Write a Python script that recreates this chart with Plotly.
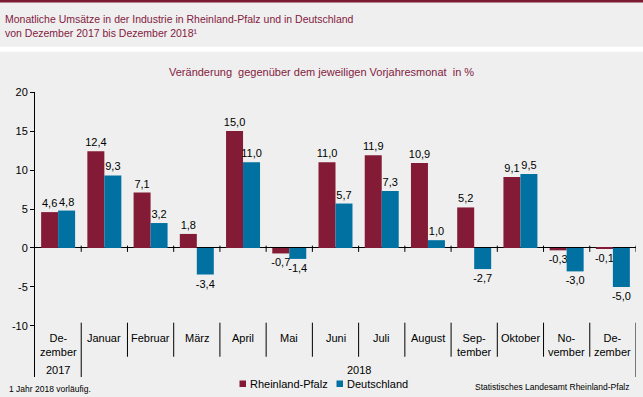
import plotly.graph_objects as go

months = ["De-<br>zember", "Januar", "Februar", "März", "April", "Mai", "Juni",
          "Juli", "August", "Sep-<br>tember", "Oktober", "No-<br>vember", "De-<br>zember"]
years = ["2017", "2018"]
rlp = [4.6, 12.4, 7.1, 1.8, 15.0, -0.7, 11.0, 11.9, 10.9, 5.2, 9.1, -0.3, -0.1]
de = [4.8, 9.3, 3.2, -3.4, 11.0, -1.4, 5.7, 7.3, 1.0, -2.7, 9.5, -3.0, -5.0]
series_names = ["Rheinland-Pfalz", "Deutschland"]
y_ticks = [-10, -5, 0, 5, 10, 15, 20]

RED = "#841b36"
BLUE = "#0071a1"
BG = "#eeefee"
TITLE_COL = "#85203f"
SANS = "Liberation Sans, Arial, sans-serif"

W, H = 643, 397
L, R, T, B = 35, 7, 92, 20
YMIN, YMAX = -16.54, 20
pw, ph = W - L - R, H - T - B


def px_x(p):
    return (p - L) / pw


def px_y(p):
    return (H - B - p) / ph


def fmt(v):
    return f"{v:.1f}".replace(".", ",")


x = list(range(len(months)))
fig = go.Figure()
for name, vals, col in [(series_names[0], rlp, RED), (series_names[1], de, BLUE)]:
    fig.add_trace(go.Bar(
        x=x, y=vals, name=name, marker=dict(color=col, line=dict(width=0)),
        text=[fmt(v) for v in vals], textposition="outside",
        textfont=dict(family=SANS, size=11, color="black"),
        constraintext="none", cliponaxis=False, showlegend=False,
    ))

shapes = []
annotations = []
n = len(months)
# zero-line ticks and category separators
for i in range(n):
    b = i + 0.5
    shapes.append(dict(type="line", xref="x", yref="y", x0=b, x1=b, y0=0.3, y1=-0.5,
                       line=dict(color="black", width=1)))
    long_sep = (i == 0) or (i == n - 1)
    shapes.append(dict(type="line", xref="x", yref="y", x0=b, x1=b, y0=-9.58,
                       y1=YMIN if long_sep else -13.94, line=dict(color="black", width=1)))
# category labels
for i, m in enumerate(months):
    annotations.append(dict(x=i, y=-10.55, xref="x", yref="y", text=m, showarrow=False,
                            xanchor="center", yanchor="top",
                            font=dict(family=SANS, size=11, color="black")))
# year labels
annotations.append(dict(x=0, y=-15.6, xref="x", yref="y", text=years[0], showarrow=False,
                        font=dict(family=SANS, size=11, color="black")))
annotations.append(dict(x=(1 + n - 1) / 2, y=-15.6, xref="x", yref="y", text=years[1],
                        showarrow=False, font=dict(family=SANS, size=11, color="black")))

# decorative header band and separator strip
shapes.append(dict(type="rect", xref="paper", yref="paper", x0=px_x(0), x1=px_x(W),
                   y0=px_y(2.5), y1=px_y(0), fillcolor="#7d1a33", line=dict(width=0),
                   layer="below"))
shapes.append(dict(type="rect", xref="paper", yref="paper", x0=px_x(0), x1=px_x(W),
                   y0=px_y(51.7), y1=px_y(46.7), fillcolor="white", line=dict(width=0),
                   layer="below"))

# subtitle
annotations.append(dict(x=px_x(321), y=px_y(72), xref="paper", yref="paper",
                        text="Veränderung  gegenüber dem jeweiligen Vorjahresmonat  in %",
                        showarrow=False, xanchor="center", yanchor="middle",
                        font=dict(family=SANS, size=11, color=TITLE_COL)))

# legend (manual)
leg = [(series_names[0], RED, 239.5, 248), (series_names[1], BLUE, 336.5, 345)]
for name, col, sx, tx in leg:
    shapes.append(dict(type="rect", xref="paper", yref="paper", x0=px_x(sx), x1=px_x(sx + 6.5),
                       y0=px_y(387), y1=px_y(380.5), fillcolor=col, line=dict(width=0)))
    annotations.append(dict(x=px_x(tx), y=px_y(383.5), xref="paper", yref="paper", text=name,
                            showarrow=False, xanchor="left", yanchor="middle",
                            font=dict(family=SANS, size=11, color="black")))

# footnote and source
annotations.append(dict(x=px_x(7), y=px_y(388.5), xref="paper", yref="paper",
                        text="1 Jahr 2018 vorläufig.", showarrow=False, xanchor="left",
                        yanchor="middle", font=dict(family=SANS, size=8.5, color="black")))
annotations.append(dict(x=px_x(632), y=px_y(387.5), xref="paper", yref="paper",
                        text="Statistisches Landesamt Rheinland-Pfalz", showarrow=False,
                        xanchor="right", yanchor="middle",
                        font=dict(family=SANS, size=8.5, color="black")))

fig.update_layout(
    width=W, height=H,
    margin=dict(l=L, r=R, t=T, b=B, pad=0),
    paper_bgcolor=BG, plot_bgcolor=BG,
    barmode="group", bargap=0.265, bargroupgap=0,
    title=dict(text="Monatliche Umsätze in der Industrie in Rheinland-Pfalz und in Deutschland"
                    "<br>von Dezember 2017 bis Dezember 2018¹",
               x=5 / W, xref="container", xanchor="left",
               y=1 - 23 / H, yref="container", yanchor="middle",
               font=dict(family=SANS, size=10.5, color=TITLE_COL)),
    xaxis=dict(range=[-0.5, n - 0.5], visible=False, fixedrange=True),
    yaxis=dict(range=[YMIN, YMAX], tickvals=y_ticks, ticktext=[str(v) for v in y_ticks],
               showgrid=False, zeroline=True, zerolinecolor="black", zerolinewidth=1,
               showline=True, linecolor="black", linewidth=1,
               ticks="outside", ticklen=4, tickcolor="black", fixedrange=True,
               tickfont=dict(family=SANS, size=11, color="black")),
    shapes=shapes, annotations=annotations,
    showlegend=False,
)

fig.write_html("out.html", config={"displayModeBar": False},
               post_script="document.body.style.margin='0';")
